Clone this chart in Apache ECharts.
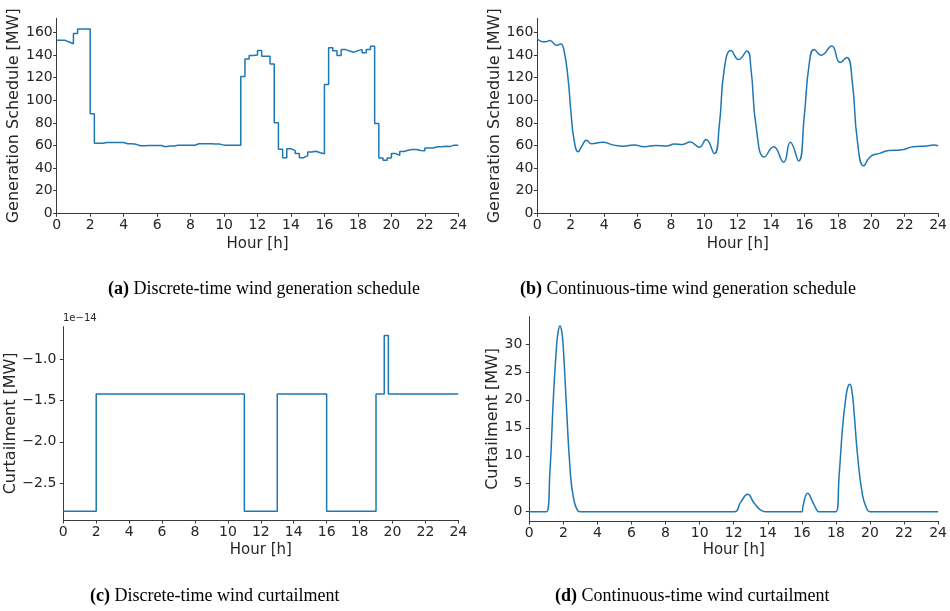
<!DOCTYPE html>
<html>
<head>
<meta charset="utf-8">
<script src="https://cdn.jsdelivr.net/npm/echarts@6/dist/echarts.min.js"></script>
<style>
  html, body { margin: 0; padding: 0; background: #fff; }
  #chart { width: 950px; height: 611px; }
</style>
</head>
<body>
<div id="chart"></div>
<script>
// (a) Discrete-time wind generation schedule, one value per 15-minute block [MW]
const discreteSchedule = [
  153, 153, 151.5, 150, 159, 163, 163, 163,
  88, 62, 62, 62.7, 62.7, 62.7, 62.7, 62.7,
  61.5, 61.5, 61, 59.7, 59.7, 60, 60, 60,
  60, 58.8, 59.5, 59.5, 60.2, 60.2, 60.2, 60.2,
  60.2, 61.5, 61.5, 61.5, 61.5, 61.2, 61.2, 60.3,
  60.3, 60.3, 60.3, 60.3, 121, 136.5, 139.5, 140,
  144, 139, 139, 132, 80, 56.7, 49.2, 57.2,
  55.5, 53, 49.2, 50.8, 54.2, 54.9, 53.6, 52.6,
  114, 146.5, 143.8, 139.5, 145, 143.5, 142.4, 143.9,
  144.8, 142, 145, 147.7, 79.5, 49, 47, 49,
  52.8, 51.4, 54.7, 55.7, 56.5, 56.5, 55.5, 55.3,
  57.8, 57.8, 58.8, 58.8, 59.4, 59, 60.3, 60.3
];

// (b) Continuous-time wind generation schedule [MW]
const contScheduleHours = [
  0, 0.25, 0.5, 0.75, 1.15, 1.4, 1.6, 1.85, 2.0, 2.2, 2.45, 2.65, 2.95, 3.25,
  3.9, 4.6, 5.15, 5.8, 6.4, 7.1, 7.75, 8.2, 8.7, 9.15, 9.7, 10.1, 10.6, 10.9,
  11.2, 11.6, 12.05, 12.55, 12.8, 13.1, 13.6, 14.15, 14.75, 15.15, 15.65, 15.98,
  16.28, 16.58, 17.0, 17.63, 18.13, 18.53, 18.87, 19.16, 19.55, 19.95, 20.5,
  21.05, 21.75, 22.5, 23.3, 23.75, 24
];
const contSchedule = [
  154.5, 152, 151.8, 152.8, 148.6, 149.8, 144, 118, 92, 65, 54.5, 59, 64.6, 61.5,
  62.8, 60.3, 59.4, 60.4, 58.9, 60, 59.5, 61.3, 60.9, 63, 58.5, 65.2, 52.8, 78,
  128, 144, 136, 143.5, 127, 77, 49.8, 58.8, 45.2, 62.8, 46.3, 85,
  132, 145, 139.8, 148, 133.4, 137.9, 115, 65, 42, 50.2, 53,
  55.5, 56, 58.8, 59.6, 60.4, 59.8
];

// (c) Discrete-time wind curtailment, in units of 1e-14 MW (step changes)
const discreteCurtailHours = [0, 2, 11, 13, 16, 19, 19.5, 19.75, 24];
const discreteCurtail = [-2.842, -1.421, -2.842, -1.421, -2.842, -1.421, -0.711, -1.421, -1.421];

// (d) Continuous-time wind curtailment [MW]
const contCurtailHours = [
  0, 1.0, 1.21, 1.41, 1.6, 1.7, 1.8, 1.9, 1.99, 2.19, 2.38, 2.58, 2.87, 3.0,
  12.0, 12.43, 12.82, 13.21, 13.7, 13.9,
  16.0, 16.08, 16.34, 16.63, 16.92, 17.0,
  18.0, 18.19, 18.39, 18.58, 18.7, 18.82, 18.95, 19.07, 19.26, 19.56, 19.85, 20.0, 24
];
const contCurtail = [
  0, 0, 7.1, 20.1, 29.6, 32.3, 33.2, 32.3, 29.6, 18.3, 8.3, 2.7, 0.1, 0,
  0, 1.8, 3.1, 1.5, 0.1, 0,
  0, 1.2, 3.3, 1.8, 0.1, 0,
  0, 6.5, 15.0, 20.3, 22.3, 22.8, 21.4, 17.7, 10.5, 3.0, 0.3, 0, 0
];

// Tick positions
const hourTicks = [0, 2, 4, 6, 8, 10, 12, 14, 16, 18, 20, 22, 24];
const scheduleTicks = [0, 20, 40, 60, 80, 100, 120, 140, 160];
const discreteCurtailTicks = [-2.5, -2.0, -1.5, -1.0];
const contCurtailTicks = [0, 5, 10, 15, 20, 25, 30];

// Sub-figure captions: [label, text]
const captions = [
  ['(a)', 'Discrete-time wind generation schedule'],
  ['(b)', 'Continuous-time wind generation schedule'],
  ['(c)', 'Discrete-time wind curtailment'],
  ['(d)', 'Continuous-time wind curtailment']
];

const INK = '#262626';
const SPINE = '#3a3a3a';
const LINE = '#1f77b4';
const SANS = 'DejaVu Sans';
const SERIF = 'Liberation Serif';

const zip = (xs, ys) => xs.map((x, i) => [x, ys[i]]);
const minusSign = s => String(s).replace('-', '\u2212');

function xAxisFor(gridIndex, nameGap) {
  return {
    type: 'value', gridIndex, min: 0, max: 24,
    name: 'Hour [h]', nameLocation: 'middle', nameGap,
    nameTextStyle: { fontFamily: SANS, fontSize: 15, color: INK },
    axisLine: { show: true, onZero: false, lineStyle: { color: SPINE, width: 1 } },
    axisTick: { show: true, length: 3.5, customValues: hourTicks, lineStyle: { color: SPINE, width: 1 } },
    axisLabel: { customValues: hourTicks, margin: 5, fontFamily: SANS, fontSize: 14, color: INK },
    splitLine: { show: false }
  };
}

function yAxisFor(gridIndex, name, min, max, ticks, nameGap, margin, fmt) {
  return {
    type: 'value', gridIndex, min, max,
    name, nameLocation: 'middle', nameGap,
    nameTextStyle: { fontFamily: SANS, fontSize: 16, color: INK },
    axisLine: { show: true, onZero: false, lineStyle: { color: SPINE, width: 1 } },
    axisTick: { show: true, length: 3.5, customValues: ticks, lineStyle: { color: SPINE, width: 1 } },
    axisLabel: { customValues: ticks, margin, fontFamily: SANS, fontSize: 14, color: INK,
                 formatter: fmt || (v => String(v)) },
    splitLine: { show: false }
  };
}

function lineSeries(idx, data, extra) {
  return Object.assign({
    type: 'line', xAxisIndex: idx, yAxisIndex: idx, data,
    showSymbol: false, symbol: 'none', animation: false,
    lineStyle: { color: LINE, width: 1.5 }, itemStyle: { color: LINE }
  }, extra || {});
}

const captionPos = [
  { left: 108, top: 280 },
  { left: 520, top: 280 },
  { left: 90, top: 587 },
  { left: 555, top: 587 }
];

const titles = captions.map((c, i) => ({
  text: '{b|' + c[0] + '} ' + c[1],
  left: captionPos[i].left, top: captionPos[i].top, padding: 0,
  textStyle: {
    fontFamily: SERIF, fontSize: 18, fontWeight: 'normal', color: '#000',
    rich: { b: { fontFamily: SERIF, fontSize: 18, fontWeight: 'bold', color: '#000' } }
  }
}));
// Offset marker for the scaled curtailment axis
titles.push({
  text: '1e\u221214', left: 63, top: 313, padding: 0,
  textStyle: { fontFamily: SANS, fontSize: 10, fontWeight: 'normal', color: INK }
});

const stepData = discreteSchedule.map((v, i) => [i / 4, v]);
stepData.push([24, discreteSchedule[discreteSchedule.length - 1]]);

const option = {
  backgroundColor: '#fff',
  animation: false,
  title: titles,
  grid: [
    { left: 56.7, top: 18.3, width: 401.6, height: 195 },
    { left: 537.3, top: 18.3, width: 402, height: 195 },
    { left: 63.3, top: 326.7, width: 395, height: 193.3 },
    { left: 529.3, top: 316.7, width: 410, height: 204.3 }
  ],
  xAxis: [xAxisFor(0, 23), xAxisFor(1, 23), xAxisFor(2, 23), xAxisFor(3, 22)],
  yAxis: [
    yAxisFor(0, 'Generation Schedule [MW]', 0, 172.5, scheduleTicks, 33, 4),
    yAxisFor(1, 'Generation Schedule [MW]', 0, 172.5, scheduleTicks, 33, 4),
    yAxisFor(2, 'Curtailment [MW]', -2.949, -0.604, discreteCurtailTicks, 37, 7,
             v => minusSign(v.toFixed(1))),
    yAxisFor(3, 'Curtailment [MW]', -1.66, 34.86, contCurtailTicks, 26, 7)
  ],
  series: [
    lineSeries(0, stepData, { step: 'end' }),
    lineSeries(1, zip(contScheduleHours, contSchedule), { smooth: 0.5 }),
    lineSeries(2, zip(discreteCurtailHours, discreteCurtail), { step: 'end' }),
    lineSeries(3, zip(contCurtailHours, contCurtail), { smooth: 0.5 })
  ]
};

const chart = echarts.init(document.getElementById('chart'), null, { renderer: 'canvas' });
chart.setOption(option);
</script>
</body>
</html>
